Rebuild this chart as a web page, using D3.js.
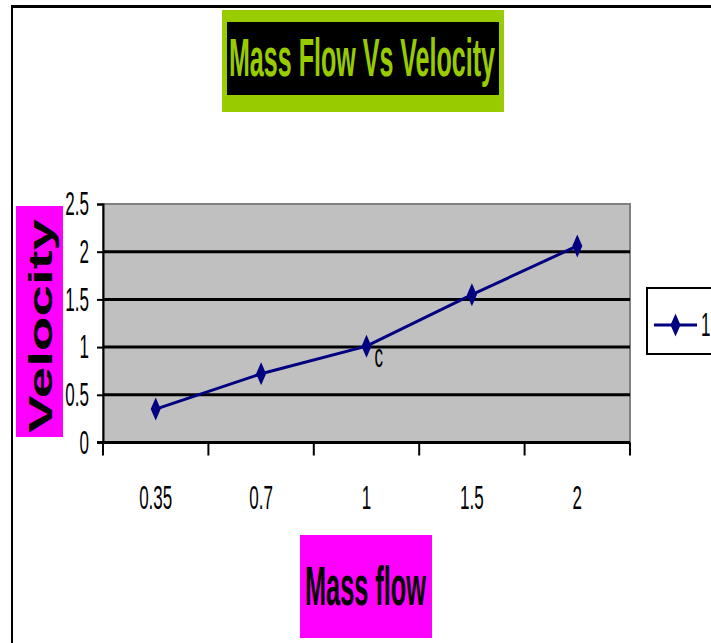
<!DOCTYPE html>
<html>
<head>
<meta charset="utf-8">
<script src="https://cdn.jsdelivr.net/npm/d3@7"></script>
<style>
  html, body { margin: 0; padding: 0; background: #fff; }
  svg { display: block; }
  text { font-family: "Liberation Sans", Arial, sans-serif; }
</style>
</head>
<body>
<div id="chart"></div>
<script>
// data
var categories = ["0.35", "0.7", "1", "1.5", "2"];
var velocity = [0.35, 0.72, 1.01, 1.55, 2.06];
var pointLabels = ["", "", "c", "", ""];
var yTicks = [0, 0.5, 1, 1.5, 2, 2.5];
var seriesName = "1";
var chartTitle = "Mass Flow Vs Velocity";
var xTitle = "Mass flow";
var yTitle = "Velocity";

var width = 711,
    height = 643;

var plotLeft = 103, plotRight = 630,
    plotTop = 204, plotBottom = 442.5;

var navy = "#000080",
    lime = "#99cc00",
    magenta = "#ff00ff";

var svg = d3.select("#chart").append("svg")
    .attr("width", width)
    .attr("height", height);

var x = d3.scaleBand()
    .domain(categories)
    .range([plotLeft, plotRight]);

var y = d3.scaleLinear()
    .domain([0, 2.5])
    .range([plotBottom, plotTop]);

// squeeze text horizontally, the chart was stretched in excel
function squeeze(sel, k) {
    sel.each(function() {
        var w = this.getComputedTextLength();
        d3.select(this)
            .attr("textLength", w * k)
            .attr("lengthAdjust", "spacingAndGlyphs");
    });
}

// outer frame
svg.append("line")
    .attr("x1", 12).attr("x2", width)
    .attr("y1", 6.5).attr("y2", 6.5)
    .attr("stroke", "#000").attr("stroke-width", 3);
svg.append("line")
    .attr("x1", 12).attr("x2", 12)
    .attr("y1", 5).attr("y2", height)
    .attr("stroke", "#000").attr("stroke-width", 2);

// title
svg.append("rect")
    .attr("x", 222).attr("y", 10)
    .attr("width", 282).attr("height", 102)
    .attr("fill", lime);
svg.append("rect")
    .attr("x", 227).attr("y", 22)
    .attr("width", 272).attr("height", 73)
    .attr("fill", "#000");
svg.append("text")
    .attr("x", 229).attr("y", 76)
    .attr("font-size", 53)
    .attr("font-weight", "bold")
    .attr("fill", lime)
    .attr("textLength", 266)
    .attr("lengthAdjust", "spacingAndGlyphs")
    .text(chartTitle);

// plot area
svg.append("rect")
    .attr("x", plotLeft).attr("y", plotTop)
    .attr("width", plotRight - plotLeft)
    .attr("height", plotBottom - plotTop)
    .attr("fill", "#c0c0c0")
    .attr("stroke", "#808080")
    .attr("stroke-width", 2);

svg.append("g")
    .selectAll("line")
    .data(yTicks.filter(function(d) { return d > 0 && d < 2.5; }))
    .enter().append("line")
    .attr("x1", plotLeft).attr("x2", plotRight)
    .attr("y1", function(d) { return y(d); })
    .attr("y2", function(d) { return y(d); })
    .attr("stroke", "#000")
    .attr("stroke-width", 3);

// y axis
var yAxis = svg.append("g")
    .attr("transform", "translate(" + plotLeft + ",0)")
    .call(d3.axisLeft(y)
        .tickValues(yTicks)
        .tickSize(6)
        .tickPadding(8)
        .tickFormat(d3.format("")));
yAxis.select(".domain").attr("stroke", "#000").attr("stroke-width", 2);
yAxis.selectAll(".tick line").attr("stroke", "#000").attr("stroke-width", 2);
yAxis.selectAll("text")
    .attr("font-size", 34)
    .attr("font-family", "Liberation Sans, Arial, sans-serif")
    .attr("fill", "#000")
    .call(squeeze, 0.5);

// x axis line, boundary ticks and labels
svg.append("line")
    .attr("x1", plotLeft - 6).attr("x2", plotRight)
    .attr("y1", plotBottom).attr("y2", plotBottom)
    .attr("stroke", "#000").attr("stroke-width", 3);

var bounds = categories.map(function(d) { return x(d); }).concat([plotRight]);
svg.append("g")
    .selectAll("line")
    .data(bounds)
    .enter().append("line")
    .attr("x1", function(d) { return d; })
    .attr("x2", function(d) { return d; })
    .attr("y1", plotBottom)
    .attr("y2", plotBottom + 13)
    .attr("stroke", "#000")
    .attr("stroke-width", 2);

var xAxis = svg.append("g")
    .attr("transform", "translate(0," + plotBottom + ")")
    .call(d3.axisBottom(x).tickSize(0).tickPadding(42));
xAxis.select(".domain").remove();
xAxis.selectAll("text")
    .attr("font-size", 34)
    .attr("font-family", "Liberation Sans, Arial, sans-serif")
    .attr("fill", "#000")
    .call(squeeze, 0.5);

// series
var cx = function(d, i) { return x(categories[i]) + x.bandwidth() / 2; };
var line = d3.line()
    .x(cx)
    .y(function(d) { return y(d); });

svg.append("path")
    .datum(velocity)
    .attr("d", line)
    .attr("fill", "none")
    .attr("stroke", navy)
    .attr("stroke-width", 3);

var diamond = "M0,-11.5L5,0L0,11.5L-5,0Z";
svg.append("g")
    .selectAll("path")
    .data(velocity)
    .enter().append("path")
    .attr("d", diamond)
    .attr("fill", navy)
    .attr("transform", function(d, i) { return "translate(" + cx(d, i) + "," + y(d) + ")"; });

svg.append("g")
    .selectAll("text")
    .data(velocity)
    .enter().append("text")
    .attr("x", function(d, i) { return cx(d, i) + 8; })
    .attr("y", function(d) { return y(d) + 21; })
    .attr("font-size", 34)
    .attr("fill", "#000")
    .text(function(d, i) { return pointLabels[i]; })
    .filter(function(d, i) { return pointLabels[i] !== ""; })
    .call(squeeze, 0.5);

// axis titles
svg.append("rect")
    .attr("x", 16).attr("y", 206)
    .attr("width", 47).attr("height", 231)
    .attr("fill", magenta);
svg.append("text")
    .attr("transform", "translate(52,433) rotate(-90)")
    .attr("font-size", 33)
    .attr("font-weight", "bold")
    .attr("fill", "#000")
    .attr("textLength", 214)
    .attr("lengthAdjust", "spacingAndGlyphs")
    .text(yTitle);

svg.append("rect")
    .attr("x", 300).attr("y", 535)
    .attr("width", 132).attr("height", 103)
    .attr("fill", magenta);
svg.append("text")
    .attr("x", 305).attr("y", 605)
    .attr("font-size", 55)
    .attr("font-weight", "bold")
    .attr("fill", "#000")
    .attr("textLength", 121)
    .attr("lengthAdjust", "spacingAndGlyphs")
    .text(xTitle);

// legend
var legend = svg.append("g").attr("transform", "translate(647,288)");
legend.append("rect")
    .attr("width", 80).attr("height", 66)
    .attr("fill", "#fff")
    .attr("stroke", "#000")
    .attr("stroke-width", 2);
legend.append("line")
    .attr("x1", 7).attr("x2", 50)
    .attr("y1", 37).attr("y2", 37)
    .attr("stroke", navy).attr("stroke-width", 3);
legend.append("path")
    .attr("d", diamond)
    .attr("fill", navy)
    .attr("transform", "translate(28.5,37)");
legend.append("text")
    .attr("x", 54).attr("y", 48)
    .attr("font-size", 34)
    .attr("fill", "#000")
    .text(seriesName)
    .call(squeeze, 0.5);
</script>
</body>
</html>
